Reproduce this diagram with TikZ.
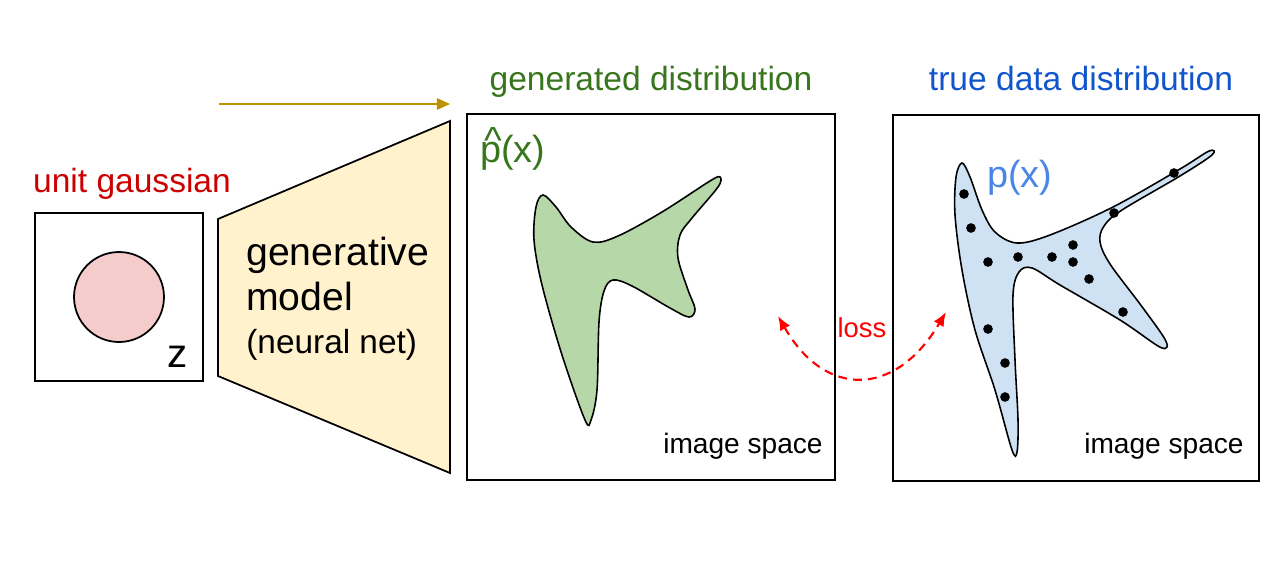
\documentclass[tikz,border=0pt]{standalone}
\usepackage{fontspec}
\setmainfont{Liberation Sans}
\usetikzlibrary{arrows.meta,positioning}
\definecolor{gred}{HTML}{CC0000}
\definecolor{ggreen}{HTML}{38761D}
\definecolor{gblue}{HTML}{1155CC}
\definecolor{pblue}{HTML}{4A86E8}
\definecolor{gold}{HTML}{BF9000}
\definecolor{modfill}{HTML}{FFF2CC}
\definecolor{gausfill}{HTML}{F4CCCC}
\definecolor{genfill}{HTML}{B6D7A8}
\definecolor{truefill}{HTML}{CFE2F3}
\newcommand{\fs}[1]{\fontsize{#1}{1.2\dimexpr#1pt\relax}\selectfont}
\tikzset{
  frm/.style={draw,line width=1pt,inner sep=0pt},
  txt/.style={inner sep=0pt,anchor=base},
  ttl/.style={txt,font=\fs{19.1}},
  blob/.style={draw,line width=0.9pt,smooth cycle,tension=0.55},
  pt/.style={circle,fill,inner sep=0pt,minimum size=5.5pt},
  fwd/.style={draw=gold,line width=1.2pt,-{Triangle[length=7.5pt,width=6.5pt]}},
  lossarr/.style={draw=red,line width=1.2pt,dash pattern=on 5pt off 3.5pt,
    {Latex[length=8pt,width=6.5pt]}-{Latex[length=8pt,width=6.5pt]}},
}
\begin{document}
\begin{tikzpicture}[x=0.02cm,y=-0.02cm]
  \useasboundingbox (0,0) rectangle (1280,561);
  % input: unit gaussian
  \node[frm,minimum width=3.36cm,minimum height=3.36cm] (zbox) at (119,297) {};
  \node[draw,line width=1pt,circle,fill=gausfill,minimum size=1.8cm] (gaus) at (119,297) {};
  \node[txt,font=\fs{23}] (zlbl) at (178,367) {z};
  \node[ttl,text=gred] (gausttl) at (132,192) {unit gaussian};
  % generative model
  \draw[line width=1pt,fill=modfill] (218,219) -- (450,121) -- (450,473) -- (218,376) -- cycle;
  \node[txt,anchor=base west,font=\fs{22.3}] (gen1) at (246,265) {generative};
  \node[txt,anchor=base west,font=\fs{22.3}] (gen2) at (246,310) {model};
  \node[txt,anchor=base west,font=\fs{19}] (gen3) at (246,353) {(neural net)};
  \coordinate (flowS) at (219,104);
  \coordinate (flowE) at (450,104);
  \draw[fwd] (flowS) -- (flowE);
  % generated distribution
  \node[frm,minimum width=7.36cm,minimum height=7.32cm] (genbox) at (651,297) {};
  \node[ttl,text=ggreen] (genttl) at (651,90) {generated distribution};
  \draw[blob,fill=genfill] plot coordinates {(543,195) (556,207) (571,227) (593,242)
    (618,236) (662,212) (710,181) (720,177) (718,187) (692,218) (680,235) (678,258)
    (688,290) (695,309) (689,317) (670,308) (632,286) (613,280) (604,291) (599,322)
    (597,390) (591,420) (585,420) (562,355) (542,285) (534,240) (536,207)};
  \node[txt,anchor=base west,text=ggreen,font=\fs{21.5}] (phat) at (480,162)
    {\makebox[0pt][l]{\hspace{0.1em}\raisebox{0.22em}{\^{}}}p(x)};
  \node[txt,anchor=base east,font=\fs{16}] (gensp) at (823,453) {image space};
  % true data distribution
  \node[frm,minimum width=7.32cm,minimum height=7.32cm] (truebox) at (1076,298) {};
  \node[ttl,text=gblue] (truettl) at (1081,90) {true data distribution};
  \draw[blob,fill=truefill] plot coordinates {(962,163) (970,177) (982,210) (995,232)
    (1017,243) (1050,235) (1113,207) (1180,169) (1209,151) (1212,155) (1180,176)
    (1122,210) (1104,226) (1100,242) (1110,264) (1140,304) (1163,336) (1167,347)
    (1158,346) (1120,320) (1060,285) (1032,268) (1019,272) (1013,295) (1015,360)
    (1018,420) (1017,452) (1012,450) (995,390) (975,330) (962,270) (955,215) (956,177)};
  \foreach \px/\py in {964/194,971/228,988/262,1018/257,1052/257,1073/245,1073/262,
    1089/279,1114/213,1174/173,1123/312,988/329,1005/363,1005/397}
    \node[pt] at (\px,\py) {};
  \node[txt,anchor=base west,text=pblue,font=\fs{21.5}] (ptrue) at (987,187) {p(x)};
  \node[txt,anchor=base east,font=\fs{16}] (truesp) at (1244,453) {image space};
  % loss
  \coordinate (lossL) at (778,316);
  \coordinate (lossR) at (946,312);
  \draw[lossarr] (lossL) .. controls (825,398) and (895,398) .. (lossR);
  \node[txt,text=red,font=\fs{15.6}] (loss) at (862,337) {loss};
\end{tikzpicture}
\end{document}
